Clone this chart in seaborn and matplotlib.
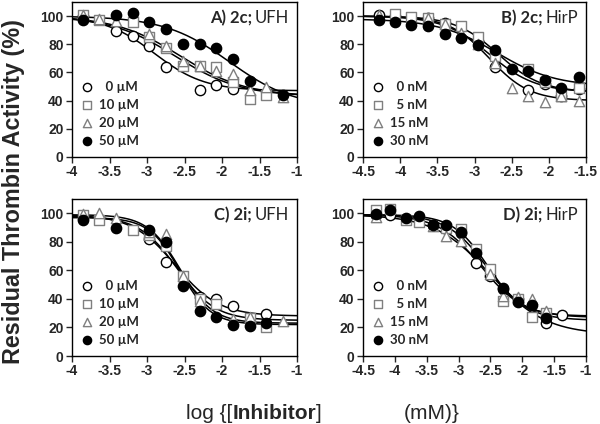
import numpy as np
import pandas as pd
import matplotlib
matplotlib.use('Agg')
import matplotlib.pyplot as plt
import seaborn as sns

# ---- data ----
# panel A) 2c; UFH
a_labels = ['  0 µM', '10 µM', '20 µM', '50 µM']
a_x = [[-3.86, -3.41, -3.19, -2.97, -2.75, -2.30, -2.08, -1.85],
       [-3.86, -3.64, -3.19, -2.97, -2.75, -2.52, -2.30, -2.08, -1.85, -1.63, -1.41],
       [-3.86, -3.64, -3.41, -2.97, -2.75, -2.52, -2.30, -2.08, -1.85, -1.63, -1.41, -1.19],
       [-3.86, -3.41, -3.19, -2.97, -2.75, -2.52, -2.30, -2.08, -1.85, -1.63, -1.19]]
a_y = [[100, 89.4, 85.9, 78.8, 64.2, 47.5, 51.3, 48.2],
       [100.7, 97, 96, 85, 77.6, 64.7, 64.7, 64, 53, 41, 44],
       [101, 97.6, 96.5, 87, 79, 68, 64.7, 61, 59, 47.5, 50, 42.4],
       [97, 101, 102, 96, 90.6, 80.5, 80, 77.6, 69.4, 54, 44.2]]
# fit: top, bottom, logIC50, hill
a_fit = [[100, 47, -2.90, 1.3],
         [100, 43, -2.62, 1.0],
         [100, 43, -2.55, 1.0],
         [100, 35, -1.90, 1.0]]

# panel B) 2c; HirP
b_labels = ['  0 nM', '  5 nM', '15 nM', '30 nM']
b_x = [[-4.28, -4.07, -3.62, -3.40, -2.95, -2.73, -2.28, -2.05, -1.83, -1.60],
       [-4.07, -3.85, -3.62, -3.40, -3.18, -2.95, -2.73, -2.28, -2.05, -1.83, -1.60],
       [-4.28, -3.62, -3.40, -3.18, -2.95, -2.73, -2.50, -2.28, -2.05, -1.83, -1.60],
       [-4.28, -4.07, -3.85, -3.62, -3.40, -3.18, -2.95, -2.73, -2.50, -2.28, -2.05, -1.83, -1.60]]
b_y = [[101, 100, 99, 95, 82, 64.2, 47.5, 52, 43.5, 48.2],
       [101.6, 99.3, 98.8, 94.6, 93, 85.2, 71.8, 62.4, 53, 43.5, 49],
       [101, 98.8, 94.6, 88, 80, 67, 49, 43.5, 39.3, 43.5, 40],
       [97.2, 96, 93.6, 93, 87.5, 84.7, 79.5, 76, 62.4, 61.2, 54.6, 49, 56.5]]
b_fit = [[100, 46, -2.80, 1.4],
         [100, 46, -2.68, 1.5],
         [100, 40, -2.80, 1.6],
         [98, 50, -2.70, 1.1]]

# panel C) 2i; UFH
c_labels = ['  0 µM', '10 µM', '20 µM', '50 µM']
c_x = [[-3.86, -2.97, -2.75, -2.30, -2.08, -1.85, -1.41],
       [-3.86, -3.64, -3.19, -2.97, -2.75, -2.52, -2.30, -2.08, -1.63, -1.41],
       [-3.86, -3.64, -3.41, -2.97, -2.75, -2.52, -2.30, -1.85, -1.63, -1.19],
       [-3.86, -3.41, -2.97, -2.75, -2.52, -2.30, -2.08, -1.85, -1.63, -1.41]]
c_y = [[98, 82, 65.7, 41.3, 40, 34.7, 29.3],
       [98.6, 95, 88, 84.5, 77, 56.3, 39.9, 36.6, 26.5, 20.2],
       [99.3, 100, 97, 86.9, 85.2, 56.3, 38.3, 26, 27.2, 24.2],
       [95.3, 90, 88.3, 79.8, 49.3, 31.2, 27.2, 21.8, 20.7, 23]]
c_fit = [[99, 28, -2.62, 1.5],
         [98, 25, -2.60, 1.7],
         [99, 23, -2.56, 2.0],
         [97, 22, -2.56, 2.1]]

# panel D) 2i; HirP
d_labels = ['  0 nM', '  5 nM', '15 nM', '30 nM']
d_x = [[-4.30, -4.07, -3.40, -2.96, -2.73, -2.51, -2.30, -2.06, -1.62, -1.38],
       [-4.30, -4.07, -3.83, -3.62, -3.19, -2.96, -2.73, -2.51, -2.30, -2.06, -1.84, -1.62],
       [-4.30, -3.40, -3.19, -2.96, -2.51, -2.30, -2.06, -1.84, -1.62],
       [-4.30, -4.07, -3.83, -3.62, -3.40, -3.19, -2.96, -2.73, -2.30, -2.06, -1.84, -1.62]]
d_y = [[99, 98.6, 92, 86, 65.4, 56, 46.7, 40, 23, 28.7],
       [102, 102.8, 95.3, 94, 90, 88.8, 75, 61, 38.8, 40, 27.6, 30.4],
       [97.7, 91, 84, 80.6, 57.2, 42, 41, 40.2, 31.8],
       [99.3, 102.3, 97, 98, 91.6, 91.6, 87, 72.4, 47.4, 38, 35.7, 26.9]]
d_fit = [[99, 27, -2.65, 1.3],
         [99, 28, -2.55, 1.6],
         [99, 15, -2.50, 1.0],
         [99, 25, -2.55, 1.4]]

sns.set_style('ticks')
plt.rcParams['font.family'] = ['Liberation Sans', 'DejaVu Sans']

fig = plt.figure(figsize=(6, 4.24), dpi=100)
W, H = 600, 424

# marker styles for the four series
mk = ['o', 's', '^', 'o']
face = ['white', 'white', 'white', 'black']
edge = ['black', '#7f7f7f', '#7f7f7f', 'black']


def hill(x, top, bottom, logic50, h):
    return bottom + (top - bottom) / (1 + 10 ** ((x - logic50) * h))


def panel(rect, xlim, xticks, xs, ys, fits, labels, tag, heparin):
    ax = fig.add_axes(rect)
    for i in range(4):
        xx = np.linspace(xlim[0], xlim[1], 200)
        sns.lineplot(x=xx, y=hill(xx, *fits[i]), ax=ax, color='black',
                     lw=1.1, legend=False, zorder=2)
    for i in range(4):
        sns.scatterplot(x=xs[i], y=ys[i], ax=ax, marker=mk[i], s=55,
                        facecolor=face[i], edgecolor=edge[i], linewidth=1.0,
                        label=labels[i], zorder=3)
    ax.set_xlim(xlim)
    ax.set_ylim(0, 110)
    ax.set_xticks(xticks)
    ax.set_xticklabels([('%g' % t) for t in xticks])
    ax.set_yticks([0, 20, 40, 60, 80, 100])
    ax.tick_params(direction='out', length=4, width=1, labelsize=10, pad=2)
    for lab in ax.get_xticklabels() + ax.get_yticklabels():
        lab.set_fontweight('bold')
    for sp in ax.spines.values():
        sp.set_color('black')
        sp.set_linewidth(1)
    ax.legend(loc='lower left', bbox_to_anchor=(-0.02, -0.005), frameon=False,
              handletextpad=0.35, labelspacing=0.45, borderpad=0.35,
              handlelength=1.2, markerscale=0.8,
              prop={'family': 'Lato', 'weight': 'bold', 'size': 9.5})
    # panel title, bold tag + regular heparin name
    t = ax.text(0.965, 0.865, heparin, transform=ax.transAxes, ha='right',
                va='baseline', fontsize=12, family='Lato')
    fig.canvas.draw()
    bb = t.get_window_extent()
    base = ax.transAxes.transform((0.965, 0.865))[1]
    ax.text(bb.x0 - 3, base, tag, transform=None, ha='right', va='baseline',
            fontsize=12, family='Lato', fontweight='bold')
    ax.set_xlabel('')
    ax.set_ylabel('')
    return ax


xt1 = [-4, -3.5, -3, -2.5, -2, -1.5, -1]
xt2 = [-4.5, -4, -3.5, -3, -2.5, -2, -1.5]
xt3 = [-4.5, -4, -3.5, -3, -2.5, -2, -1.5, -1]

panel([72 / W, 1 - 157 / H, 225 / W, 155 / H], (-4, -1), xt1,
      a_x, a_y, a_fit, a_labels, 'A) 2c;', 'UFH')
panel([363 / W, 1 - 157 / H, 223 / W, 155 / H], (-4.5, -1.5), xt2,
      b_x, b_y, b_fit, b_labels, 'B) 2c;', 'HirP')
panel([72 / W, 1 - 356 / H, 225 / W, 157 / H], (-4, -1), xt1,
      c_x, c_y, c_fit, c_labels, 'C) 2i;', 'UFH')
panel([363 / W, 1 - 356 / H, 223 / W, 157 / H], (-4.5, -1), xt3,
      d_x, d_y, d_fit, d_labels, 'D) 2i;', 'HirP')

# axis titles
fig.text(14 / W, 1 - 192 / H, 'Residual Thrombin Activity (%)', rotation=90,
         ha='center', va='center', fontsize=16.8, fontweight='bold')

base_y = 1 - 419 / H
t1 = fig.text(186 / W, base_y, 'log {[', ha='left', va='baseline', fontsize=15)
fig.canvas.draw()
x1 = t1.get_window_extent().x1
t2 = fig.text(x1 / W, base_y, 'Inhibitor', ha='left', va='baseline',
              fontsize=15, fontweight='bold')
fig.canvas.draw()
x2 = t2.get_window_extent().x1
fig.text(x2 / W, base_y, ']', ha='left', va='baseline', fontsize=15)
fig.text(404 / W, base_y, '(mM)}', ha='left', va='baseline', fontsize=15)

fig.savefig('out.png', dpi=100)
